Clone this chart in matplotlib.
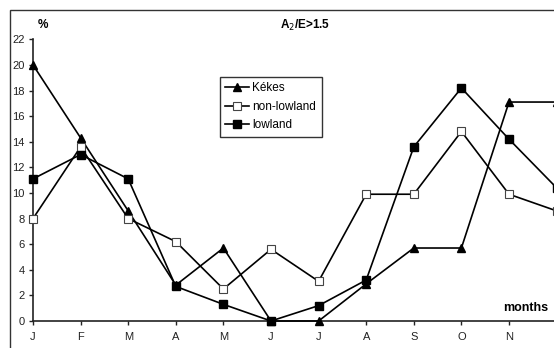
import matplotlib.pyplot as plt
import numpy as np
from matplotlib.patches import Rectangle

plt.rcParams['font.family'] = ['Liberation Sans', 'DejaVu Sans']

# monthly frequencies (%) for A2/E > 1.5
months = ['J', 'F', 'M', 'A', 'M', 'J', 'J', 'A', 'S', 'O', 'N', 'D']
kekes = [20.0, 14.3, 8.6, 2.8, 5.7, 0.0, 0.0, 2.9, 5.7, 5.7, 17.1, 17.1]
non_lowland = [8.0, 13.6, 8.0, 6.2, 2.5, 5.6, 3.1, 9.9, 9.9, 14.8, 9.9, 8.6]
lowland = [11.1, 13.0, 11.1, 2.7, 1.3, 0.0, 1.2, 3.2, 13.6, 18.2, 14.2, 10.4]
yticks = list(range(0, 23, 2))

W, H = 554, 348
fig = plt.figure(figsize=(W / 100, H / 100), dpi=100)
fig.patch.set_facecolor('white')

# outer frame of the chart area (runs off the right and bottom)
fig.add_artist(Rectangle((10 / W, -0.1), 1.2, (H - 10) / H + 0.1,
                         transform=fig.transFigure, fill=False,
                         edgecolor='#333333', linewidth=1.0))

x0, x1 = 33, 556.6
y0, y1 = 321, 39.3
ax = fig.add_axes([x0 / W, (H - y0) / H, (x1 - x0) / W, (y0 - y1) / H])
ax.patch.set_alpha(0)

x = np.arange(len(months))
lw = 1.2
ax.plot(x, kekes, color='black', lw=lw, marker='^', ms=6,
        mfc='black', mec='black', label='Kékes', clip_on=False, zorder=3)
ax.plot(x, non_lowland, color='black', lw=lw, marker='s', ms=5.5,
        mfc='white', mec='#444444', mew=0.8, label='non-lowland',
        clip_on=False, zorder=3)
ax.plot(x, lowland, color='black', lw=lw, marker='s', ms=5.5,
        mfc='black', mec='black', label='lowland', clip_on=False, zorder=3)

ax.set_xlim(0, len(months) - 1)
ax.set_ylim(0, 22)
ax.set_xticks(x)
# December sits on the right edge; its label falls outside the figure
ax.set_xticklabels(months[:-1] + [''])
ax.set_yticks(yticks)
for s in ['top', 'right']:
    ax.spines[s].set_visible(False)
for s in ['left', 'bottom']:
    ax.spines[s].set_linewidth(1.2)
    ax.spines[s].set_color('#222222')
ax.tick_params(axis='both', direction='out', length=3, width=1,
               labelsize=8, colors='#222222', pad=5)
ax.tick_params(axis='y', pad=3)

leg = ax.legend(loc='upper left', bbox_to_anchor=((220 - x0) / (x1 - x0), (y0 - 77) / (y0 - y1)),
                frameon=True, fancybox=False, fontsize=8.5, handlelength=2.0,
                handletextpad=0.3, borderpad=0.45, labelspacing=0.55,
                borderaxespad=0)
leg.get_frame().set_edgecolor('black')
leg.get_frame().set_linewidth(1.0)

fig.text(38 / W, 1 - 25 / H, '%', fontsize=8.5, fontweight='bold', ha='left', va='center')
fig.text(305 / W, 1 - 25 / H, r'A$_2$/E>1.5', fontsize=8.5, fontweight='bold',
         ha='center', va='center')
fig.text(548 / W, 1 - 308 / H, 'months', fontsize=9, fontweight='bold',
         ha='right', va='center')

fig.savefig('out.png', dpi=100)
